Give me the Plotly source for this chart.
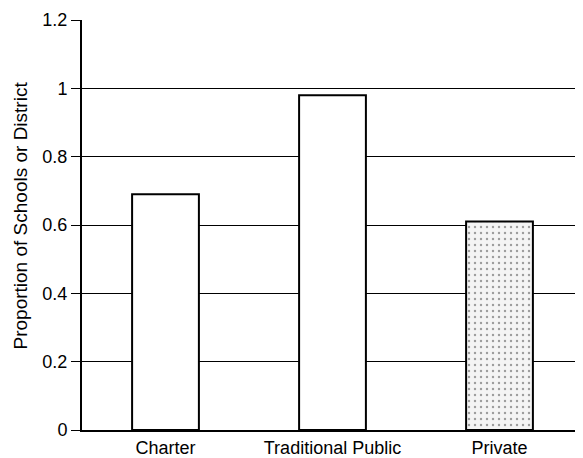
import plotly.graph_objects as go

categories = ['Charter', 'Traditional Public', 'Private']
proportions = [0.69, 0.98, 0.61]
y_ticks = [0, 0.2, 0.4, 0.6, 0.8, 1, 1.2]
y_tick_labels = ['0', '0.2', '0.4', '0.6', '0.8', '1', '1.2']

fig = go.Figure()

fig.add_trace(go.Bar(
    x=categories,
    y=proportions,
    marker=dict(
        color=['white', 'white', '#f4f4f4'],
        line=dict(color='black', width=2),
        pattern=dict(
            shape=['', '', '.'],
            fgcolor='#a8a8a8',
            bgcolor='#f6f6f6',
            size=6,
            solidity=0.12,
        ),
    ),
    width=0.4,
    showlegend=False,
))

# y axis title as annotation so it sits a little above the plot centre
fig.add_annotation(
    text='Proportion of Schools or District',
    xref='paper', yref='paper',
    x=0, y=0.522,
    xshift=-74,
    textangle=-90,
    showarrow=False,
    font=dict(size=19),
)

fig.update_layout(
    width=575,
    height=450,
    margin=dict(l=74, r=0, t=12, b=28),
    paper_bgcolor='white',
    plot_bgcolor='white',
    font=dict(family='Liberation Sans, Arial', size=18, color='black'),
    xaxis=dict(
        showline=True,
        linecolor='black',
        linewidth=2,
        showgrid=False,
        ticks='',
        tickfont=dict(size=18),
    ),
    yaxis=dict(
        range=[0, 1.2],
        tickvals=y_ticks,
        ticktext=y_tick_labels,
        showline=True,
        linecolor='black',
        linewidth=2,
        showgrid=True,
        gridcolor='black',
        gridwidth=1,
        ticks='outside',
        ticklen=9,
        tickcolor='black',
        tickfont=dict(size=18),
        zeroline=False,
    ),
)

fig.write_html("out.html")
